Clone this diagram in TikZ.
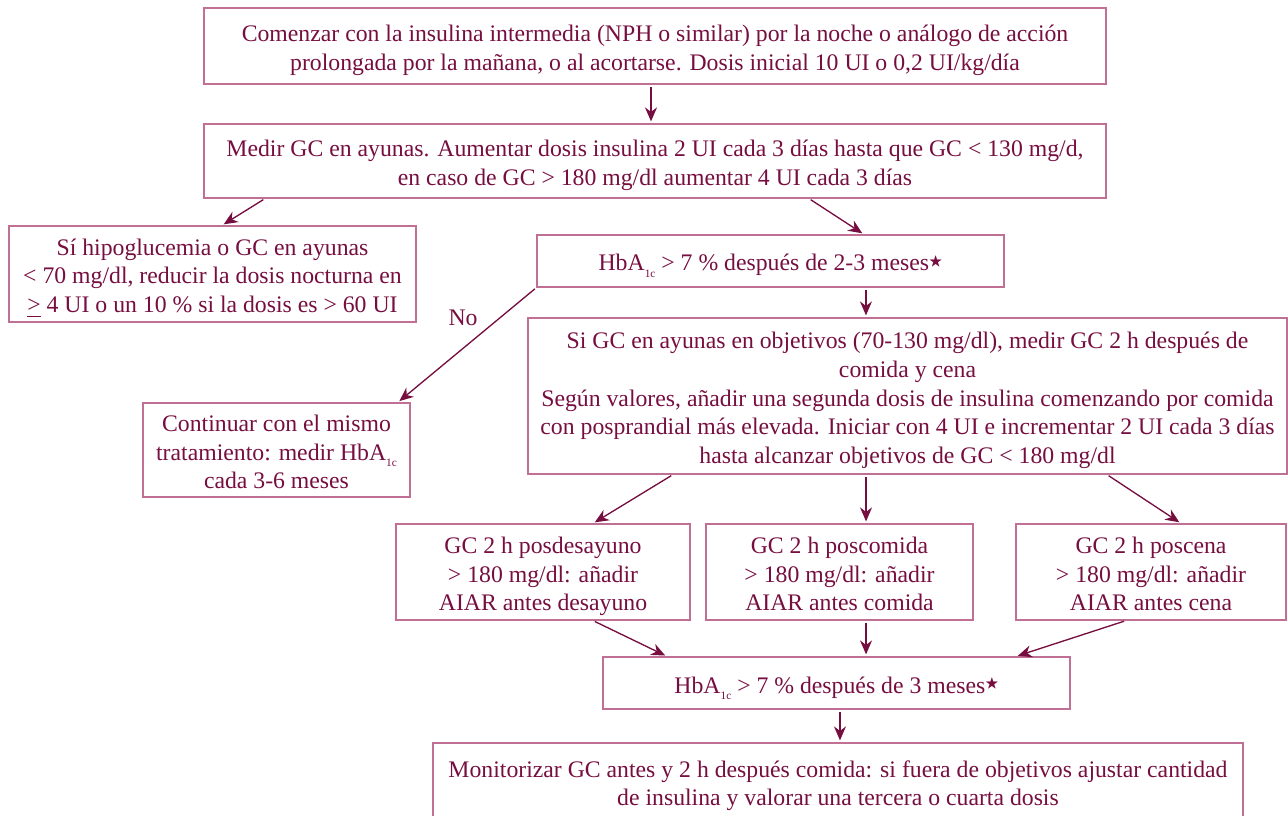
\documentclass[tikz,border=0pt]{standalone}
\usepackage{amssymb}
\usepackage{fontspec}
\setmainfont{Liberation Serif}
\usetikzlibrary{arrows.meta}
\definecolor{txt}{RGB}{118,14,64}
\definecolor{brd}{RGB}{192,112,148}
\newcommand{\hba}{HbA\raisebox{-0.6ex}{\fontsize{8.5}{8.5}\selectfont 1c}}
\newcommand{\stt}{\raisebox{0.5ex}{\fontsize{10.5}{10.5}\selectfont$\bigstar$}}
\newlength{\tbs}\setlength{\tbs}{21.5pt}
\newcommand{\tx}[2]{\raisebox{0pt}[\dimexpr #1\tbs-\tbs+18.25pt\relax][3.25pt]{\begin{tabular}[b]{@{}c@{}}#2\end{tabular}}}
\tikzset{
  bx/.style={draw=brd, line width=0.9pt, text=txt, inner sep=0pt,
    font=\fontsize{17.8}{21.5}\selectfont},
  arr/.style={draw=txt, line width=1pt, -{Stealth[length=10.5pt,width=9pt]}, shorten <=1.5pt, shorten >=1.5pt},
}
\begin{document}
\begin{tikzpicture}[x=0.75pt,y=-0.75pt]
\useasboundingbox (0,0) rectangle (1288,816);
\node[bx, minimum width=676.5pt, minimum height=57pt] (top) at (655,46)
  {\tx{2}{Comenzar con la insulina intermedia (NPH o similar) por la noche o análogo de acción\\prolongada por la mañana, o al acortarse. Dosis inicial 10 UI o 0,2 UI/kg/día}};
\node[bx, minimum width=676.5pt, minimum height=55.5pt] (med) at (655,161)
  {\tx{2}{Medir GC en ayunas. Aumentar dosis insulina 2 UI cada 3 días hasta que GC < 130 mg/d,\\en caso de GC > 180 mg/dl aumentar 4 UI cada 3 días}};
\node[bx, minimum width=305.25pt, minimum height=72pt] (hypo) at (212.5,274)
  {\tx{3}{Sí hipoglucemia o GC en ayunas\\< 70 mg/dl, reducir la dosis nocturna en\\ \underline{>} 4 UI o un 10 \% si la dosis es > 60 UI}};
\node[bx, minimum width=350.25pt, minimum height=39pt] (hb1) at (770.5,261)
  {\tx{1}{\hba{} > 7 \% después de 2-3 meses\stt}};
\node[bx, minimum width=200.25pt, minimum height=70.5pt] (cont) at (276.5,450)
  {\tx{3}{Continuar con el mismo\\tratamiento: medir \hba\\cada 3-6 meses}};
\node[bx, minimum width=569.25pt, minimum height=117pt] (sigc) at (907.5,396)
  {\tx{5}{Si GC en ayunas en objetivos (70-130 mg/dl), medir GC 2 h después de\\comida y cena\\Según valores, añadir una segunda dosis de insulina comenzando por comida\\con posprandial más elevada. Iniciar con 4 UI e incrementar 2 UI cada 3 días\\hasta alcanzar objetivos de GC < 180 mg/dl}};
\node[bx, minimum width=220.5pt, minimum height=72pt] (bd) at (543,572)
  {\tx{3}{GC 2 h posdesayuno\\> 180 mg/dl: añadir\\AIAR antes desayuno}};
\node[bx, minimum width=200.25pt, minimum height=72pt] (bc) at (839.5,572)
  {\tx{3}{GC 2 h poscomida\\> 180 mg/dl: añadir\\AIAR antes comida}};
\node[bx, minimum width=202.5pt, minimum height=72pt] (bn) at (1151,572)
  {\tx{3}{GC 2 h poscena\\> 180 mg/dl: añadir\\AIAR antes cena}};
\node[bx, minimum width=350.25pt, minimum height=39pt] (hb3) at (836.5,683)
  {\tx{1}{\hba{} > 7 \% después de 3 meses\stt}};
\node[bx, minimum width=607.5pt, minimum height=57.75pt] (mon) at (838,781.5)
  {\tx{2}{Monitorizar GC antes y 2 h después comida: si fuera de objetivos ajustar cantidad\\de insulina y valorar una tercera o cuarta dosis}};
\node[text=txt, font=\fontsize{17.8}{21.5}\selectfont, inner sep=0pt, anchor=base] (no) at (463,326) {No};
% arrows
\draw[arr] ([xshift=-3pt]top.south) -- ([xshift=-3pt]top.south |- med.north);
\draw[arr] ([xshift=-292.5pt]med.south) -- ([xshift=7.1pt]hypo.north);
\draw[arr] ([xshift=115.5pt]med.south) -- ([xshift=70.1pt]hb1.north);
\draw[arr] ([xshift=71.6pt]hb1.south) -- ([xshift=71.6pt]hb1.south |- sigc.north);
\draw[arr] (hb1.south west) -- ([xshift=91pt]cont.north);
\draw[arr] ([xshift=-175.9pt]sigc.south) -- ([xshift=37.5pt]bd.north);
\draw[arr] ([xshift=-31.1pt]sigc.south) -- ([xshift=-31.1pt]sigc.south |- bc.north);
\draw[arr] ([xshift=149.6pt]sigc.south) -- ([xshift=22.5pt]bn.north);
\draw[arr] ([xshift=37.5pt]bd.south) -- ([xshift=-127.1pt]hb3.north);
\draw[arr] ([xshift=19.9pt]bc.south) -- ([xshift=19.9pt]bc.south |- hb3.north);
\draw[arr] ([xshift=-18.75pt]bn.south) -- ([xshift=134.6pt]hb3.north);
\draw[arr] ([xshift=2.6pt]hb3.south) -- ([xshift=2.6pt]hb3.south |- mon.north);
\end{tikzpicture}
\end{document}
